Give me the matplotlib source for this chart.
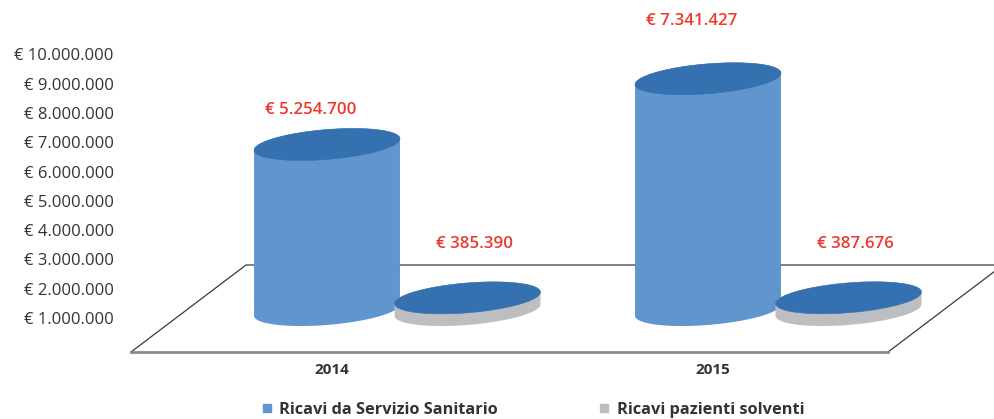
import numpy as np
import matplotlib
matplotlib.use("Agg")
import matplotlib.pyplot as plt
from matplotlib import transforms
from matplotlib.lines import Line2D

plt.rcParams['font.family'] = ['Open Sans', 'DejaVu Sans']

# data
years = ['2014', '2015']
series = ['Ricavi da Servizio Sanitario', 'Ricavi pazienti solventi']
ssn = [5254700, 7341427]
solventi = [385390, 387676]
tick_values = [1000000, 2000000, 3000000, 4000000, 5000000,
               6000000, 7000000, 8000000, 9000000, 10000000]

# colours
side_cols = ['#6195ce', '#bdbec1']
top_col = '#3571b0'
label_col = '#ec3a2e'
text_col = '#333333'

# layout (pixels)
W, H = 994, 419
PX_X = 381.0          # pixels per category
X0 = 327.0            # x pixel of first category
BASE = 310.0          # y pixel of the cylinder bottoms
PX_EUR = 31.5e-6      # pixels per euro
SERIES_DX = [0.0, 140.5]
LABEL_DX = [-16, 7]
LABEL_LIFT = [[34, 54], [58, 54]]
A, B = 73.2, 14.9     # ellipse semi axes
THETA = np.radians(4.7)

fig = plt.figure(figsize=(W / 100, H / 100), dpi=100)

# floor in pixel coordinates
floor_ax = fig.add_axes([0, 0, 1, 1])
floor_ax.set_xlim(0, W)
floor_ax.set_ylim(H, 0)
floor_ax.axis('off')
floor_ax.plot([131, 246, 1003], [352, 265, 265], color='#3a3a3a', lw=0.9)
floor_ax.plot([888, 1003], [352, 265], color='#3a3a3a', lw=0.9)
floor_ax.plot([131, 888], [352, 352], color='#8a8a8a', lw=2.0)

# value axis labels
tick_ax = fig.add_axes([122 / W, 0, 0.001, 1])
tick_ax.set_ylim(1e6 - (H - 318) / 29.3 * 1e6, 1e6 + 318 / 29.3 * 1e6)
tick_ax.set_yticks(tick_values)
tick_ax.set_yticklabels(['€ ' + f'{v:,}'.replace(',', '.') for v in tick_values])
tick_ax.tick_params(axis='y', length=0, pad=6, labelsize=12, labelcolor=text_col)
tick_ax.set_xticks([])
for s in tick_ax.spines.values():
    s.set_visible(False)
tick_ax.patch.set_visible(False)

# main axes: x in categories, y in euros
ax = fig.add_axes([0, 0, 1, 1])
ax.set_xlim(-X0 / PX_X, (W - X0) / PX_X)
ax.set_ylim(-(H - BASE) / PX_EUR, BASE / PX_EUR)
ax.axis('off')
ax.patch.set_visible(False)


def ellipse(cx, cy, phi):
    dx = A * np.cos(phi) * np.cos(THETA) - B * np.sin(phi) * np.sin(THETA)
    dy = A * np.cos(phi) * np.sin(THETA) + B * np.sin(phi) * np.cos(THETA)
    return cx + dx / PX_X, cy + dy / PX_EUR


def cylinder(cx, value, side, top, z):
    phi_r = np.arctan(-B * np.tan(THETA) / A)
    phi_l = phi_r + np.pi
    lower = np.linspace(phi_l, phi_r + 2 * np.pi, 120)
    upper = np.linspace(phi_r, phi_l, 120)
    bx, by = ellipse(cx, 0, lower)
    tx, ty = ellipse(cx, value, upper)
    ax.fill(np.r_[bx, tx], np.r_[by, ty], color=side, lw=0, zorder=z)
    ex, ey = ellipse(cx, value, np.linspace(0, 2 * np.pi, 240))
    ax.fill(ex, ey, color=top, lw=0.4, ec=top, zorder=z + 0.1)


z = 2
for i, year in enumerate(years):
    for j, vals in enumerate([ssn, solventi]):
        v = vals[i]
        cx = i + SERIES_DX[j] / PX_X
        cylinder(cx, v, side_cols[j], top_col, z)
        z += 1
        ax.text(cx + LABEL_DX[j] / PX_X,
                v + LABEL_LIFT[i][j] / PX_EUR,
                '€ ' + f'{v:,}'.replace(',', '.'),
                ha='center', va='center', color=label_col,
                fontsize=12.2, fontweight='semibold', zorder=20)

# category labels
trans = transforms.blended_transform_factory(ax.transData, ax.transAxes)
for i, year in enumerate(years):
    ax.text(i + 5 / PX_X, 1 - 370 / H, year, transform=trans,
            ha='center', va='center', fontsize=11, fontweight='bold',
            color=text_col)

handles = [Line2D([], [], ls='none', marker='s', markersize=6,
                  markerfacecolor=c, markeredgecolor=c) for c in side_cols]
leg = fig.legend(handles, series, loc='center', ncol=2, frameon=False,
                 bbox_to_anchor=(533 / W, 1 - 410 / H),
                 handlelength=0.6, handletextpad=0.45, columnspacing=6.2,
                 prop={'size': 11.8, 'weight': 'bold'})
for t in leg.get_texts():
    t.set_color(text_col)

fig.savefig('out.png', dpi=100)
